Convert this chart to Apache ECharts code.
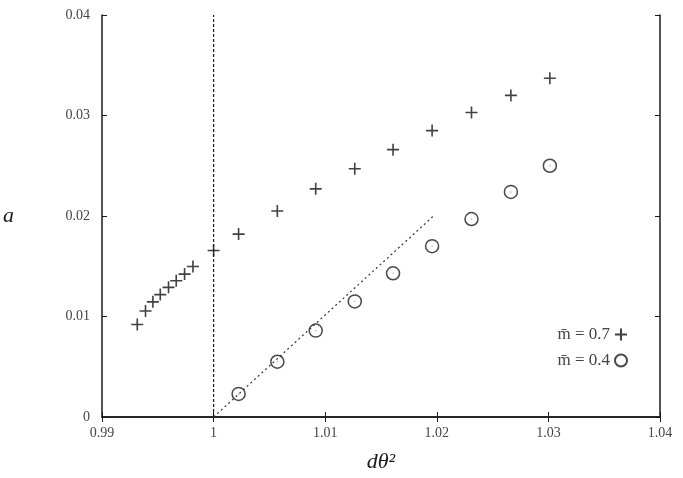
<!DOCTYPE html>
<html lang="en">
<head>
    <meta charset="UTF-8">
    <title>a vs dθ²</title>
    <script src="https://cdn.jsdelivr.net/npm/echarts@6/dist/echarts.min.js"></script>
</head>
<body style="margin:0;background:#fff;">
    <div id="main" style="width:683px;height:478px;"></div>
<script type="text/javascript">
    // data
    var plusX = [0.99316, 0.9939, 0.99456, 0.99522, 0.99596, 0.99665, 0.9974, 0.99815, 1.0000, 1.00224, 1.00571, 1.00915, 1.01265, 1.01608, 1.01958, 1.02311, 1.02664, 1.03013];
    var plusY = [0.0092, 0.01054, 0.01146, 0.01218, 0.0129, 0.01356, 0.01422, 0.01498, 0.01656, 0.0182, 0.0205, 0.0227, 0.0247, 0.0266, 0.0285, 0.0303, 0.0320, 0.0337];
    var circX = [1.00224, 1.00571, 1.00915, 1.01265, 1.01608, 1.01958, 1.02311, 1.02664, 1.03013];
    var circY = [0.0023, 0.0055, 0.0086, 0.0115, 0.0143, 0.0170, 0.0197, 0.0224, 0.0250];
    var vLineX = [1, 1];
    var vLineY = [0, 0.04];
    var fitX = [1, 1.0197];
    var fitY = [0, 0.0200];

    function pairs(xs, ys) {
        var out = [];
        for (var i = 0; i < xs.length; i++) out.push([xs[i], ys[i]]);
        return out;
    }

    var myChart = echarts.init(document.getElementById('main'));
    var font = 'Liberation Serif';
    var ink = '#1a1a1a';

    var option = {
        animation: false,
        textStyle: { fontFamily: font },
        grid: { left: 102, right: 23, top: 15, bottom: 58 },
        legend: {
            orient: 'vertical',
            right: 50,
            top: 321,
            align: 'right',
            itemWidth: 12,
            itemHeight: 12,
            itemGap: 9,
            textStyle: { fontFamily: font, fontSize: 17, color: '#444' },
            data: ['m\u0304 = 0.7', 'm\u0304 = 0.4']
        },
        xAxis: [
            {
                type: 'value', min: 0.99, max: 1.04, interval: 0.01,
                name: 'd\u03b8\u00b2', nameLocation: 'middle', nameGap: 34,
                nameTextStyle: { fontFamily: font, fontStyle: 'italic', fontSize: 22, color: ink },
                axisLine: { lineStyle: { color: ink, width: 1.5 } },
                axisTick: { inside: true, length: 5, lineStyle: { color: ink } },
                axisLabel: { color: '#444', fontSize: 14, margin: 9 },
                splitLine: { show: false }
            },
            {
                type: 'value', min: 0.99, max: 1.04, interval: 0.01, position: 'top',
                axisLine: { lineStyle: { color: ink, width: 1.5 } },
                axisTick: { inside: true, length: 5, lineStyle: { color: ink } },
                axisLabel: { show: false },
                splitLine: { show: false }
            }
        ],
        yAxis: [
            {
                type: 'value', min: 0, max: 0.04, interval: 0.01,
                name: 'a', nameLocation: 'middle', nameRotate: 0, nameGap: 88,
                nameTextStyle: { fontFamily: font, fontStyle: 'italic', fontSize: 22, color: ink },
                axisLine: { show: true, lineStyle: { color: ink, width: 1.5 } },
                axisTick: { show: true, inside: true, length: 5, lineStyle: { color: ink } },
                axisLabel: { color: '#444', fontSize: 14, margin: 12 },
                splitLine: { show: false }
            },
            {
                type: 'value', min: 0, max: 0.04, interval: 0.01, position: 'right',
                axisLine: { show: true, lineStyle: { color: ink, width: 1.5 } },
                axisTick: { show: true, inside: true, length: 5, lineStyle: { color: ink } },
                axisLabel: { show: false },
                splitLine: { show: false }
            }
        ],
        series: [
            {
                name: 'vline', type: 'line', data: pairs(vLineX, vLineY),
                symbol: 'none', silent: true,
                lineStyle: { color: ink, width: 1.2, type: [3, 2] }
            },
            {
                name: 'fit', type: 'line', data: pairs(fitX, fitY),
                symbol: 'none', silent: true,
                lineStyle: { color: '#333', width: 1.2, type: [2, 3] }
            },
            {
                name: 'm\u0304 = 0.7', type: 'scatter', data: pairs(plusX, plusY),
                symbol: 'path://M5,0L5,10M0,5L10,5', symbolSize: 12,
                itemStyle: { color: 'transparent', borderColor: '#111', borderWidth: 1.6 }
            },
            {
                name: 'm\u0304 = 0.4', type: 'scatter', data: pairs(circX, circY),
                symbol: 'circle', symbolSize: 13,
                itemStyle: { color: 'transparent', borderColor: ink, borderWidth: 1.5 }
            },
            {
                name: 'dots', type: 'scatter', data: pairs(circX, circY),
                symbol: 'circle', symbolSize: 1.5, silent: true,
                itemStyle: { color: '#999' }
            }
        ]
    };

    myChart.setOption(option);
</script>
</body>
</html>
